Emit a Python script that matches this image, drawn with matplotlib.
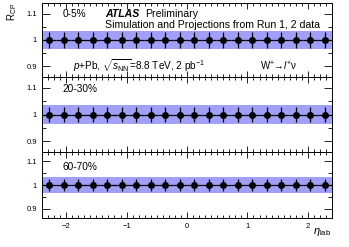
import numpy as np
import matplotlib.pyplot as plt
from matplotlib.ticker import MultipleLocator, FuncFormatter

plt.rcParams['font.family'] = ['Liberation Sans', 'DejaVu Sans']
plt.rcParams['mathtext.fontset'] = 'custom'
plt.rcParams['mathtext.rm'] = 'Liberation Sans'
plt.rcParams['mathtext.it'] = 'Liberation Sans:italic'

# eta_lab bins
edges = np.linspace(-2.4, 2.4, 21)
centers = 0.5 * (edges[:-1] + edges[1:])

centralities = ["0-5%", "20-30%", "60-70%"]
rcp = [np.ones(20), np.ones(20), np.ones(20)]
stat_err = [np.full(20, 0.029), np.full(20, 0.027), np.full(20, 0.027)]
syst_err = [np.full(20, 0.035), np.full(20, 0.036), np.full(20, 0.036)]

band_color = "#a0a0f8"

fig = plt.figure(figsize=(3.49, 2.47), dpi=100)
left, width = 42 / 349, 290 / 349
# panel edges in pixels from top
tops = [3, 77, 152]
bots = [77, 152, 218]
axes = []
for i in range(3):
    b = 1 - bots[i] / 247
    h = (bots[i] - tops[i]) / 247
    ax = fig.add_axes([left, b, width, h])
    axes.append(ax)

    x_edges = np.repeat(edges, 2)[1:-1]
    lo = np.repeat(rcp[i] - syst_err[i], 2)
    hi = np.repeat(rcp[i] + syst_err[i], 2)
    ax.fill_between(x_edges, lo, hi, color=band_color, lw=0, zorder=1)
    ax.errorbar(centers, rcp[i], xerr=0.12, yerr=stat_err[i], fmt='o',
                color='black', ms=4, lw=0.9, capsize=0, zorder=3)

    ax.set_xlim(-2.4, 2.4)
    ax.set_ylim(0.86, 1.14)
    ax.xaxis.set_major_locator(MultipleLocator(1))
    ax.xaxis.set_minor_locator(MultipleLocator(0.1))
    ax.yaxis.set_major_locator(MultipleLocator(0.1))
    ax.yaxis.set_minor_locator(MultipleLocator(0.05))
    ax.yaxis.set_major_formatter(FuncFormatter(lambda v, p: f"{v:g}"))
    ax.tick_params(which='both', direction='in', top=True, right=True,
                   labelsize=5.5, width=0.6)
    ax.tick_params(which='major', axis='y', length=6)
    ax.tick_params(which='minor', axis='y', length=3)
    ax.tick_params(which='major', axis='x', length=4)
    ax.tick_params(which='minor', axis='x', length=2)
    for s in ax.spines.values():
        s.set_linewidth(0.7)
    if i < 2:
        ax.tick_params(axis='x', labelbottom=False)
    else:
        ax.xaxis.set_major_formatter(FuncFormatter(lambda v, p: f"{v:g}".replace("-", "\u2212")))

    ty = [0.85, 0.84, 0.77][i]
    ax.text(0.072, ty, centralities[i], transform=ax.transAxes,
            fontsize=7.3, va='center', ha='left')

ax = axes[0]
ax.text(0.217, 0.85, "ATLAS", transform=ax.transAxes, fontsize=7.6,
        fontweight='bold', style='italic', va='center', ha='left')
ax.text(0.357, 0.85, "Preliminary", transform=ax.transAxes, fontsize=7.6,
        va='center', ha='left')
ax.text(0.217, 0.70, "Simulation and Projections from Run 1, 2 data",
        transform=ax.transAxes, fontsize=7.6, va='center', ha='left')
ax.text(0.106, 0.15, r"$p$+Pb, $\sqrt{s_{\rm NN}}$=8.8 TeV, 2 pb$^{-1}$",
        transform=ax.transAxes, fontsize=7.2, va='center', ha='left')
ax.text(0.75, 0.15, "W$^{+}$\u2192$l^{+}$\u03bd",
        transform=ax.transAxes, fontsize=7, va='center', ha='left')

fig.text(0.035, 0.99, r"R$_{\rm CP}$", rotation=90, fontsize=7,
         ha='center', va='top')
fig.text(0.95, 1 - 232 / 247, r"$\eta_{\rm lab}$", fontsize=8,
         ha='right', va='center')

fig.savefig("out.png", dpi=100)
